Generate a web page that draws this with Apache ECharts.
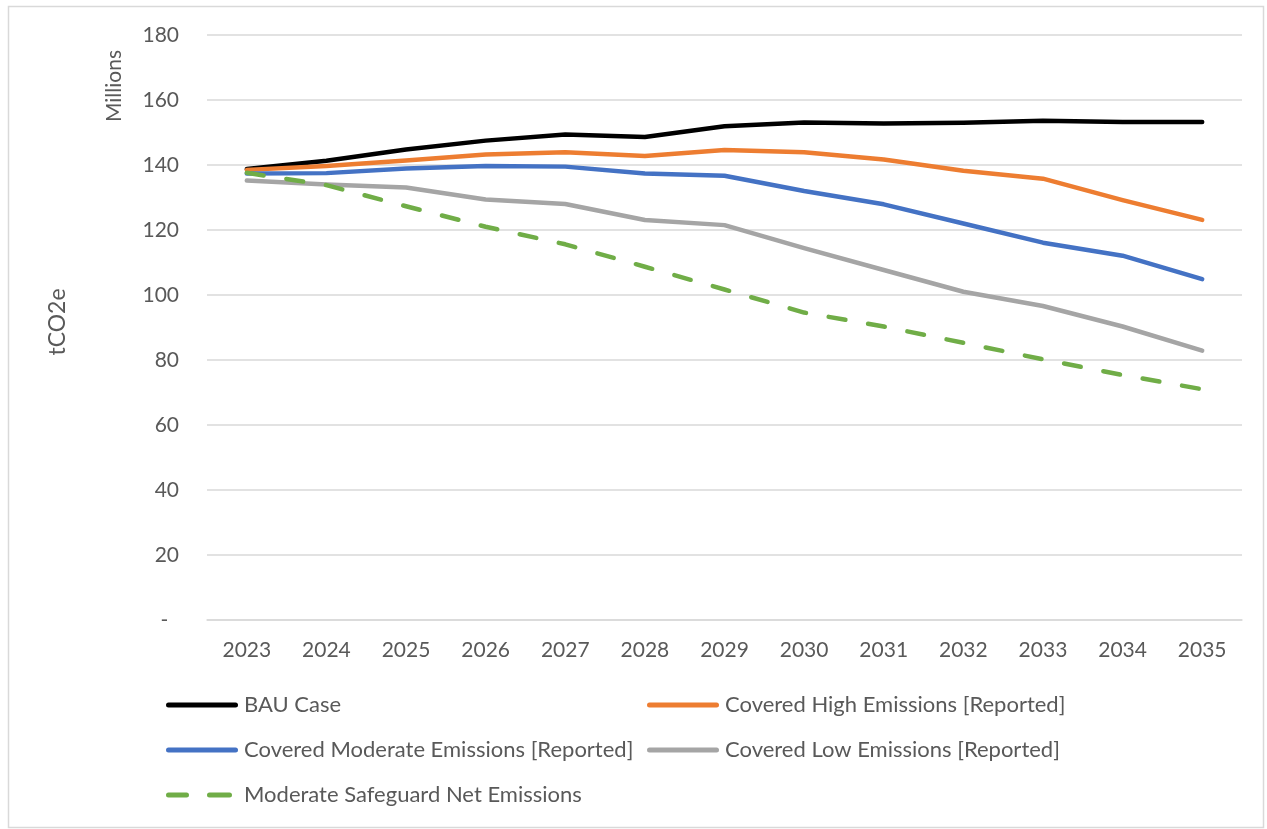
<!DOCTYPE html>
<html>
<head>
<meta charset="utf-8">
<script src="https://cdn.jsdelivr.net/npm/echarts@6/dist/echarts.min.js"></script>
<style>html,body{margin:0;padding:0;background:#fff}#c{width:1267px;height:829px}</style>
</head>
<body>
<div id="c"></div>
<script>
const years = ['2023','2024','2025','2026','2027','2028','2029','2030','2031','2032','2033','2034','2035'];
const bau = [138.8,141.3,144.8,147.5,149.4,148.6,151.9,153.1,152.8,153.0,153.6,153.2,153.2];
const coveredHigh = [138.5,139.7,141.4,143.2,143.9,142.8,144.6,143.9,141.7,138.2,135.8,129.2,123.1];
const coveredModerate = [137.4,137.5,138.9,139.7,139.5,137.4,136.7,132.0,127.9,122.0,116.1,112.1,104.9];
const coveredLow = [135.2,134.0,133.1,129.4,128.0,123.1,121.5,114.4,107.7,101.0,96.6,90.3,82.9];
const safeguardNet = [137.6,133.8,127.3,121.0,115.6,108.7,101.7,94.6,90.3,85.3,80.2,75.4,71.0];
const yTicks = {min:0, max:180, step:20};

const FONT = 'Lato, "Open Sans", sans-serif';
const TXT = '#595959';
const chart = echarts.init(document.getElementById('c'), null, {renderer:'canvas'});

const SOLID_ICON = 'path://M2.5,0H69.5A2.5,2.5 0 0 1 69.5,5H2.5A2.5,2.5 0 0 1 2.5,0Z';
const DASH_ICON = 'path://M2.5,0H20.5A2.5,2.5 0 0 1 20.5,5H2.5A2.5,2.5 0 0 1 2.5,0Z M43.5,0H63.5A2.5,2.5 0 0 1 63.5,5H43.5A2.5,2.5 0 0 1 43.5,0Z M72,2.5h0';

function line(name, data, color, dashed){
  return {
    name, type:'line', data, symbol:'none', smooth:false,
    lineStyle:{color, width:4.5, cap:'round', join:'round', type: dashed ? [17,23] : 'solid'},
    itemStyle:{color},
    emphasis:{disabled:true}
  };
}
function leg(name, left, top, dashed){
  return {
    data:[{name, icon: dashed ? DASH_ICON : SOLID_ICON}], left, top, itemWidth:72, itemHeight:5, itemGap:0,
    padding:0,
    itemStyle:{borderWidth:0},
    lineStyle:{width:0},
    textStyle:{color:TXT, fontFamily:FONT, fontSize:22, padding:[0,0,0,1]},
    selectedMode:false
  };
}

chart.setOption({
  animation:false,
  backgroundColor:'#fff',
  grid:{left:207, right:25, top:35, bottom:209, containLabel:false},
  xAxis:{
    type:'category', data:years, boundaryGap:true,
    axisLine:{show:true, lineStyle:{color:'#d9d9d9', width:1.5}},
    axisTick:{show:false},
    axisLabel:{color:TXT, fontFamily:FONT, fontSize:21, margin:20}
  },
  yAxis:{
    type:'value', min:yTicks.min, max:yTicks.max, interval:yTicks.step,
    axisLine:{show:false}, axisTick:{show:false},
    splitLine:{lineStyle:{color:'#d9d9d9', width:1.5}},
    axisLabel:{color:TXT, fontFamily:FONT, fontSize:21, margin:28,
      formatter:v => v === 0 ? '-  ' : String(v)}
  },
  legend:[
    leg('BAU Case',166,694),
    leg('Covered High Emissions [Reported]',647,694),
    leg('Covered Moderate Emissions [Reported]',166,739),
    leg('Covered Low Emissions [Reported]',647,739),
    leg('Moderate Safeguard Net Emissions',166,784,true)
  ],
  graphic:[
    {type:'rect', left:6, top:4, shape:{width:1255, height:821}, style:{fill:null, stroke:'#d9d9d9', lineWidth:1.5}, silent:true},
    {type:'text', x:114, y:86, rotation:Math.PI/2, style:{text:'Millions', fill:TXT, font:'21px '+FONT, align:'center', verticalAlign:'middle'}},
    {type:'text', x:58, y:322, rotation:Math.PI/2, style:{text:'tCO2e', fill:TXT, font:'23px '+FONT, align:'center', verticalAlign:'middle'}}
  ],
  series:[
    line('BAU Case', bau, '#000000'),
    line('Covered High Emissions [Reported]', coveredHigh, '#ED7D31'),
    line('Covered Moderate Emissions [Reported]', coveredModerate, '#4472C4'),
    line('Covered Low Emissions [Reported]', coveredLow, '#A5A5A5'),
    line('Moderate Safeguard Net Emissions', safeguardNet, '#70AD47', true)
  ]
});
</script>
</body>
</html>
